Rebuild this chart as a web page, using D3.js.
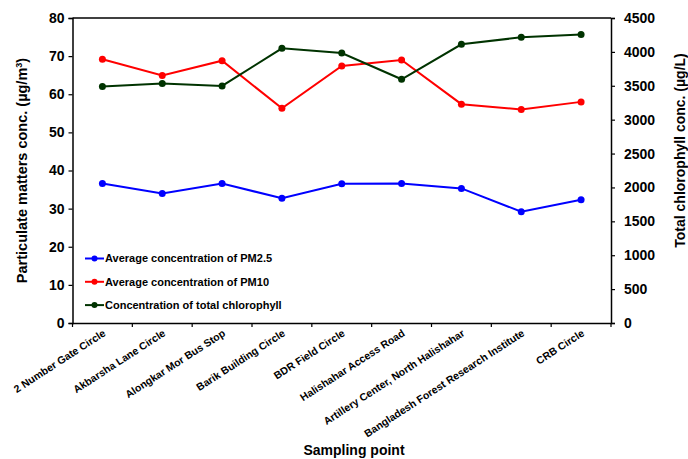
<!DOCTYPE html>
<html>
<head>
<meta charset="utf-8">
<script src="https://cdn.jsdelivr.net/npm/d3@7"></script>
<style>
  body { margin: 0; background: #fff; }
  svg text { font-family: Arial, "Liberation Sans", sans-serif; font-weight: bold; }
</style>
</head>
<body>
<svg id="chart" width="688" height="459"></svg>
<script>
// Data
const sites = [
    '2 Number Gate Circle', 'Akbarsha Lane Circle', 'Alongkar Mor Bus Stop',
    'Barik Building Circle', 'BDR Field Circle', 'Halishahar Access Road',
    'Artillery Center, North Halishahar', 'Bangladesh Forest Research Institute', 'CRB Circle'
];
const pm25 = [36.6, 34.0, 36.6, 32.7, 36.5, 36.6, 35.3, 29.2, 32.3];
const pm10 = [69.2, 64.9, 68.8, 56.3, 67.4, 69.0, 57.4, 56.0, 58.0];
const chlorophyll = [3489, 3533, 3498, 4053, 3984, 3596, 4112, 4215, 4255];
const leftTicks = [0, 10, 20, 30, 40, 50, 60, 70, 80];
const rightTicks = [0, 500, 1000, 1500, 2000, 2500, 3000, 3500, 4000, 4500];

const svg = d3.select('#chart');
const plotLeft = 72.5, plotRight = 611, plotTop = 18, plotBottom = 323;

// Scales
let x = d3.scaleBand().domain(sites).range([plotLeft, plotRight]);
let yL = d3.scaleLinear().domain([0, 80]).range([plotBottom, plotTop]);
let yR = d3.scaleLinear().domain([0, 4500]).range([plotBottom, plotTop]);

// Top border of the plot
svg.append('line')
    .attr('x1', plotLeft).attr('x2', plotRight)
    .attr('y1', plotTop).attr('y2', plotTop)
    .attr('stroke', 'black').attr('stroke-width', 1.5);

// Axes
let axisL = svg.append('g').attr('transform', 'translate(' + plotLeft + ',0)')
    .call(d3.axisLeft(yL).tickValues(leftTicks).tickSize(4).tickPadding(4));
let axisR = svg.append('g').attr('transform', 'translate(' + plotRight + ',0)')
    .call(d3.axisRight(yR).tickValues(rightTicks).tickFormat(d3.format('d')).tickSize(4).tickPadding(9));
let axisX = svg.append('g').attr('transform', 'translate(0,' + plotBottom + ')')
    .call(d3.axisBottom(x).tickSize(0).tickFormat(''));

[axisL, axisR, axisX].forEach(function (g) {
    g.select('.domain').attr('stroke-width', 1.5);
    g.selectAll('.tick line').attr('stroke-width', 1.2);
    g.selectAll('text').style('font-size', '14px').attr('fill', 'black');
});

// Category boundary ticks on the x axis
svg.append('g')
    .selectAll('line')
    .data(d3.range(sites.length + 1))
    .enter()
    .append('line')
    .attr('x1', (d) => plotLeft + d * x.step())
    .attr('x2', (d) => plotLeft + d * x.step())
    .attr('y1', plotBottom).attr('y2', plotBottom + 4)
    .attr('stroke', 'black').attr('stroke-width', 1.2);

// Rotated category labels
svg.append('g')
    .selectAll('text')
    .data(sites)
    .enter()
    .append('text')
    .attr('transform', (d) => 'translate(' + (x(d) + x.bandwidth() / 2 + 4) + ',' + (plotBottom + 12) + ') rotate(-33)')
    .attr('text-anchor', 'end')
    .style('font-size', '10.5px')
    .text((d) => d);

// Series
let series = [
    { name: 'Average concentration of PM2.5', values: pm25, scale: yL, color: '#0000ff' },
    { name: 'Average concentration of PM10', values: pm10, scale: yL, color: '#ff0000' },
    { name: 'Concentration of total chlorophyll', values: chlorophyll, scale: yR, color: '#003300' }
];

series.forEach(function (s) {
    let pts = s.values.map((v, i) => [x(sites[i]) + x.bandwidth() / 2, s.scale(v)]);
    svg.append('path')
        .attr('d', d3.line()(pts))
        .attr('fill', 'none')
        .attr('stroke', s.color)
        .attr('stroke-width', 2);
    svg.append('g')
        .selectAll('circle')
        .data(pts)
        .enter()
        .append('circle')
        .attr('cx', (d) => d[0]).attr('cy', (d) => d[1])
        .attr('r', 3.5)
        .attr('fill', s.color);
});

// Legend
let legend = svg.append('g')
    .selectAll('g')
    .data(series)
    .enter()
    .append('g')
    .attr('transform', (d, i) => 'translate(85,' + (258.5 + i * 23.3) + ')');
legend.append('line')
    .attr('x1', 0).attr('x2', 19)
    .attr('stroke', (d) => d.color).attr('stroke-width', 2);
legend.append('circle')
    .attr('cx', 9.5).attr('r', 3).attr('fill', (d) => d.color);
legend.append('text')
    .attr('x', 20).attr('dy', '0.35em')
    .style('font-size', '11px')
    .text((d) => d.name);

// Axis titles
let titleL = svg.append('text')
    .attr('transform', 'translate(27,' + ((plotTop + plotBottom) / 2) + ') rotate(-90)')
    .attr('text-anchor', 'middle')
    .style('font-size', '14.5px');
titleL.append('tspan').text('Particulate matters conc. (µg/m');
titleL.append('tspan').attr('dy', -5).style('font-size', '9px').text('3');
titleL.append('tspan').attr('dy', 5).text(')');

svg.append('text')
    .attr('transform', 'translate(685,' + ((plotTop + plotBottom) / 2 - 20) + ') rotate(-90)')
    .attr('text-anchor', 'middle')
    .style('font-size', '14px')
    .text('Total chlorophyll conc. (µg/L)');

svg.append('text')
    .attr('x', 354).attr('y', 455)
    .attr('text-anchor', 'middle')
    .style('font-size', '14px')
    .text('Sampling point');
</script>
</body>
</html>
